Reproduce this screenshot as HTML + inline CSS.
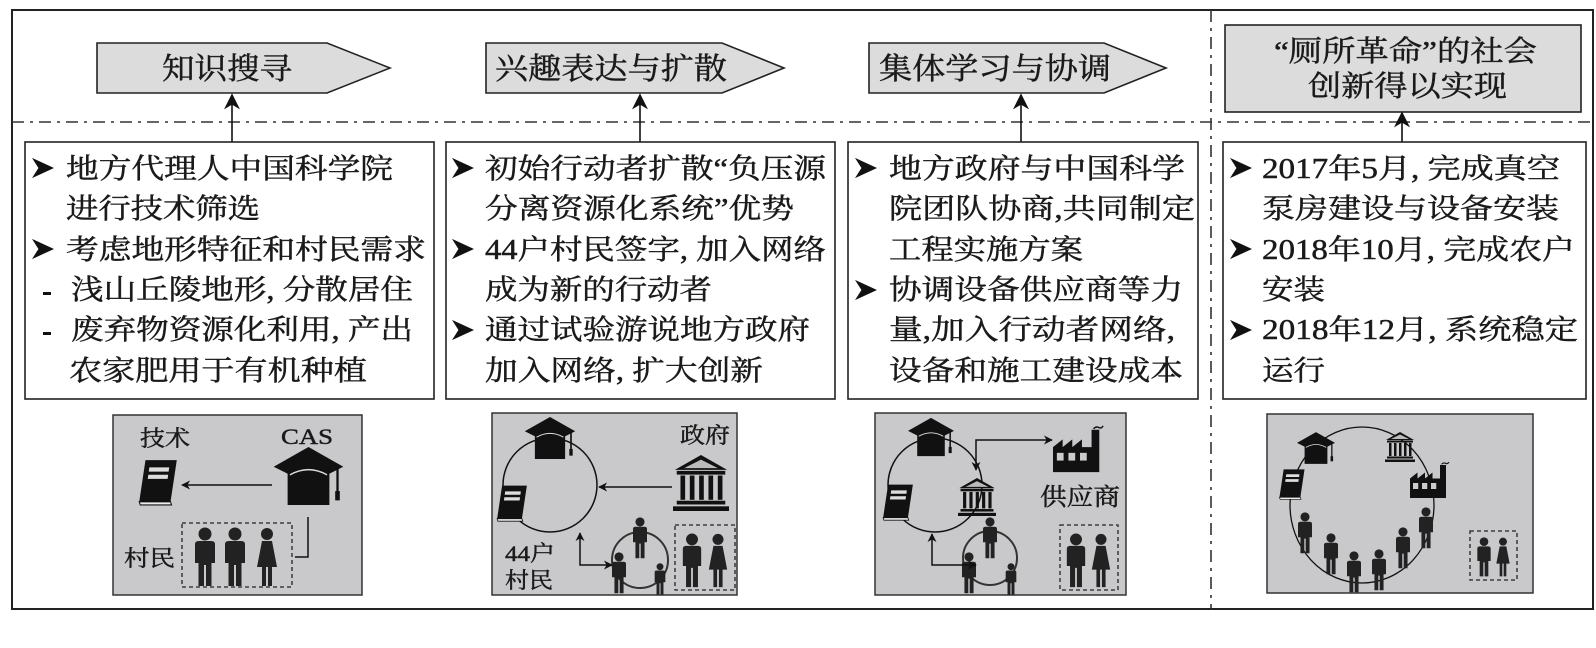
<!DOCTYPE html>
<html><head><meta charset="utf-8"><style>
html,body{margin:0;padding:0;background:#fff;}
svg{display:block;}
text{font-family:"Liberation Serif","Noto Serif CJK SC",serif;fill:#1a1a1a;stroke:#1a1a1a;stroke-width:0.45;}
</style></head><body>
<svg width="1596" height="648" viewBox="0 0 1596 648" xmlns="http://www.w3.org/2000/svg">
<defs>
<marker id="ah" viewBox="0 0 10 10" refX="9" refY="5" markerWidth="9" markerHeight="9" orient="auto-start-reverse" markerUnits="userSpaceOnUse"><path d="M0,0 L10,5 L0,10 L3,5 z" fill="#111"/></marker>
<marker id="ab" viewBox="0 0 10 10" refX="9" refY="5" markerWidth="16" markerHeight="16" orient="auto-start-reverse" markerUnits="userSpaceOnUse"><path d="M0,0 L10,5 L0,10 L3,5 z" fill="#111"/></marker>
<symbol id="cap" viewBox="0 0 60 50"><polygon points="0,17 30,0 60,17 30,32" fill="#111"/><path d="M12,22 Q30,12 48,22 L48,50 L12,50 z" fill="#111"/><path d="M14,24 Q30,15 46,24" stroke="#ddd" stroke-width="1.2" fill="none"/><line x1="55" y1="18" x2="55" y2="40" stroke="#111" stroke-width="2"/><rect x="53" y="38" width="4" height="8" fill="#111"/></symbol>
<symbol id="book" viewBox="0 0 40 46"><path d="M8,2 L38,2 L32,42 L2,42 z" fill="#111"/><path d="M2,42 L32,42 L33,45 L3,45 z" fill="#eee" stroke="#111" stroke-width="1"/><rect x="13" y="9" width="19" height="4" fill="#ddd" transform="skewX(-8)"/><rect x="13" y="16" width="19" height="4" fill="#ddd" transform="skewX(-8)"/></symbol>
<symbol id="temple" viewBox="0 0 60 60"><polygon points="30,0 58,16 2,16" fill="#111"/><polygon points="30,5 48,14 12,14" fill="#bbb"/><rect x="4" y="17" width="52" height="4" fill="#111"/><rect x="8" y="22" width="5" height="26" fill="#111"/><rect x="18" y="22" width="5" height="26" fill="#111"/><rect x="28" y="22" width="5" height="26" fill="#111"/><rect x="38" y="22" width="5" height="26" fill="#111"/><rect x="48" y="22" width="5" height="26" fill="#111"/><rect x="4" y="49" width="52" height="4" fill="#111"/><rect x="0" y="55" width="60" height="5" fill="#111"/></symbol>
<symbol id="factory" viewBox="0 0 56 48"><path d="M0,48 L0,22 L10,14 L10,22 L20,14 L20,22 L30,14 L30,22 L40,22 L40,4 L48,4 L48,48 z" fill="#111"/><rect x="4" y="28" width="7" height="8" fill="#ccc"/><rect x="16" y="28" width="7" height="8" fill="#ccc"/><rect x="28" y="28" width="7" height="8" fill="#ccc"/><path d="M42,3 Q45,0 48,2 Q50,3 52,0" stroke="#111" fill="none" stroke-width="1.5"/></symbol>
<symbol id="man" viewBox="0 0 20 60"><circle cx="10" cy="7" r="6.5" fill="#222"/><path d="M0,17 Q0,14 4,14 L16,14 Q20,14 20,17 L20,36 L16.5,36 L16.5,59 L11,59 L11,38 L9,38 L9,59 L3.5,59 L3.5,36 L0,36 z" fill="#222"/></symbol>
<symbol id="woman" viewBox="0 0 20 60"><circle cx="10" cy="7" r="6" fill="#222"/><path d="M5,14 L15,14 L20,40 L15,40 L15,59 L11,59 L11,40 L9,40 L9,59 L5,59 L5,40 L0,40 z" fill="#222"/></symbol>
<symbol id="bul" viewBox="0 0 24 24"><path d="M0,1 L24,12 L0,23 L7,12 z" fill="#111"/></symbol>
</defs>

<rect x="12" y="10" width="1581" height="599" fill="none" stroke="#222" stroke-width="2"/>
<line x1="12" y1="122" x2="1593" y2="122" stroke="#333" stroke-width="1.6" stroke-dasharray="12 6 3 6"/>
<line x1="1211" y1="10" x2="1211" y2="609" stroke="#333" stroke-width="1.6" stroke-dasharray="12 6 3 6"/>

<polygon points="97,43 327,43 390,68 327,93 97,93" fill="#dcdcdc" stroke="#222" stroke-width="1.6"/>
<text x="162" y="79" font-size="30" textLength="130" lengthAdjust="spacingAndGlyphs">知识搜寻</text>
<polygon points="486,43 722,43 784,68 722,93 486,93" fill="#dcdcdc" stroke="#222" stroke-width="1.6"/>
<text x="495" y="79" font-size="30" textLength="232" lengthAdjust="spacingAndGlyphs">兴趣表达与扩散</text>
<polygon points="869,43 1104,43 1166,68 1104,93 869,93" fill="#dcdcdc" stroke="#222" stroke-width="1.6"/>
<text x="879" y="79" font-size="30" textLength="232" lengthAdjust="spacingAndGlyphs">集体学习与协调</text>
<rect x="1225" y="25" width="356" height="87" fill="#dcdcdc" stroke="#222" stroke-width="1.6"/>
<text x="1274" y="61" font-size="29" textLength="263" lengthAdjust="spacingAndGlyphs">“厕所革命”的社会</text>
<text x="1308" y="96" font-size="29" textLength="199" lengthAdjust="spacingAndGlyphs">创新得以实现</text>

<line x1="232" y1="142" x2="232" y2="95" stroke="#111" stroke-width="1.6" marker-end="url(#ab)"/>
<line x1="640" y1="142" x2="640" y2="95" stroke="#111" stroke-width="1.6" marker-end="url(#ab)"/>
<line x1="1021" y1="142" x2="1021" y2="95" stroke="#111" stroke-width="1.6" marker-end="url(#ab)"/>
<line x1="1402" y1="142" x2="1402" y2="113" stroke="#111" stroke-width="1.6" marker-end="url(#ab)"/>

<rect x="25" y="142" width="409" height="257" fill="#fff" stroke="#222" stroke-width="1.6"/>
<rect x="446" y="142" width="389" height="257" fill="#fff" stroke="#222" stroke-width="1.6"/>
<rect x="848" y="142" width="350" height="257" fill="#fff" stroke="#222" stroke-width="1.6"/>
<rect x="1223" y="142" width="363" height="257" fill="#fff" stroke="#222" stroke-width="1.6"/>

<g font-size="28">
<use href="#bul" x="32" y="157" width="22" height="22"/>
<text x="66" y="178" textLength="327" lengthAdjust="spacingAndGlyphs">地方代理人中国科学院</text>
<text x="66" y="218" textLength="194" lengthAdjust="spacingAndGlyphs">进行技术筛选</text>
<use href="#bul" x="32" y="238" width="22" height="22"/>
<text x="66" y="259" textLength="360" lengthAdjust="spacingAndGlyphs">考虑地形特征和村民需求</text>
<rect x="43" y="292" width="8" height="3" fill="#111"/>
<text x="71" y="299" textLength="342" lengthAdjust="spacingAndGlyphs">浅山丘陵地形, 分散居住</text>
<rect x="43" y="332" width="8" height="3" fill="#111"/>
<text x="71" y="339" textLength="342" lengthAdjust="spacingAndGlyphs">废弃物资源化利用, 产出</text>
<text x="69" y="380" textLength="298" lengthAdjust="spacingAndGlyphs">农家肥用于有机种植</text>
<use href="#bul" x="452" y="157" width="22" height="22"/>
<text x="485" y="178" textLength="341" lengthAdjust="spacingAndGlyphs">初始行动者扩散“负压源</text>
<text x="485" y="218" textLength="309" lengthAdjust="spacingAndGlyphs">分离资源化系统”优势</text>
<use href="#bul" x="452" y="238" width="22" height="22"/>
<text x="485" y="259" textLength="341" lengthAdjust="spacingAndGlyphs">44户村民签字, 加入网络</text>
<text x="485" y="299" textLength="227" lengthAdjust="spacingAndGlyphs">成为新的行动者</text>
<use href="#bul" x="452" y="319" width="22" height="22"/>
<text x="485" y="339" textLength="325" lengthAdjust="spacingAndGlyphs">通过试验游说地方政府</text>
<text x="485" y="380" textLength="278" lengthAdjust="spacingAndGlyphs">加入网络, 扩大创新</text>
<use href="#bul" x="855" y="157" width="22" height="22"/>
<text x="889" y="178" textLength="296" lengthAdjust="spacingAndGlyphs">地方政府与中国科学</text>
<text x="889" y="218" textLength="306" lengthAdjust="spacingAndGlyphs">院团队协商,共同制定</text>
<text x="889" y="259" textLength="194" lengthAdjust="spacingAndGlyphs">工程实施方案</text>
<use href="#bul" x="855" y="279" width="22" height="22"/>
<text x="889" y="299" textLength="294" lengthAdjust="spacingAndGlyphs">协调设备供应商等力</text>
<text x="889" y="339" textLength="286" lengthAdjust="spacingAndGlyphs">量,加入行动者网络,</text>
<text x="889" y="380" textLength="294" lengthAdjust="spacingAndGlyphs">设备和施工建设成本</text>
<use href="#bul" x="1230" y="157" width="22" height="22"/>
<text x="1262" y="178" textLength="298" lengthAdjust="spacingAndGlyphs">2017年5月, 完成真空</text>
<text x="1262" y="218" textLength="297" lengthAdjust="spacingAndGlyphs">泵房建设与设备安装</text>
<use href="#bul" x="1230" y="238" width="22" height="22"/>
<text x="1262" y="259" textLength="313" lengthAdjust="spacingAndGlyphs">2018年10月, 完成农户</text>
<text x="1262" y="299" textLength="63" lengthAdjust="spacingAndGlyphs">安装</text>
<use href="#bul" x="1230" y="319" width="22" height="22"/>
<text x="1262" y="339" textLength="316" lengthAdjust="spacingAndGlyphs">2018年12月, 系统稳定</text>
<text x="1262" y="380" textLength="63" lengthAdjust="spacingAndGlyphs">运行</text>
</g>

<rect x="113" y="415" width="249" height="180" fill="#c9c9cb" stroke="#333" stroke-width="1.5"/>
<text x="140" y="446" font-size="22" textLength="50" lengthAdjust="spacingAndGlyphs">技术</text>
<text x="281" y="444" font-size="22" textLength="52" lengthAdjust="spacingAndGlyphs">CAS</text>
<use href="#book" x="133" y="458" width="50" height="48"/>
<line x1="272" y1="485" x2="182" y2="485" stroke="#111" stroke-width="1.5" marker-end="url(#ah)"/>
<use href="#cap" x="272" y="447" width="73" height="58"/>
<rect x="182" y="523" width="110" height="64" fill="none" stroke="#222" stroke-width="1.3" stroke-dasharray="4 3"/>
<text x="124" y="566" font-size="22" textLength="51" lengthAdjust="spacingAndGlyphs">村民</text>
<use href="#man" x="193" y="527" width="24" height="60"/>
<use href="#man" x="223" y="527" width="24" height="60"/>
<use href="#woman" x="255" y="527" width="24" height="60"/>
<polyline points="308,517 308,557 295,557" fill="none" stroke="#111" stroke-width="1.5"/>

<rect x="492" y="413" width="245" height="182" fill="#c9c9cb" stroke="#333" stroke-width="1.5"/>
<circle cx="550" cy="485" r="47" fill="none" stroke="#111" stroke-width="1.5"/>
<use href="#cap" x="523" y="417" width="54" height="42"/>
<use href="#book" x="495" y="484" width="34" height="38"/>
<text x="680" y="443" font-size="22" textLength="50" lengthAdjust="spacingAndGlyphs">政府</text>
<use href="#temple" x="672" y="455" width="58" height="56"/>
<line x1="672" y1="487" x2="599" y2="487" stroke="#111" stroke-width="1.5" marker-end="url(#ah)"/>
<text x="505" y="561" font-size="22" textLength="50" lengthAdjust="spacingAndGlyphs">44户</text>
<text x="505" y="588" font-size="22" textLength="48" lengthAdjust="spacingAndGlyphs">村民</text>
<circle cx="640" cy="560" r="28" fill="none" stroke="#333" stroke-width="2"/>
<use href="#man" x="631" y="517" width="18" height="42"/>
<use href="#man" x="610" y="552" width="18" height="42"/>
<use href="#man" x="652" y="563" width="16" height="32"/>
<polyline points="580,533 580,565 612,565" fill="none" stroke="#111" stroke-width="1.5" marker-start="url(#ah)" marker-end="url(#ah)"/>
<rect x="675" y="525" width="60" height="65" fill="none" stroke="#222" stroke-width="1.3" stroke-dasharray="4 3"/>
<use href="#man" x="681" y="533" width="22" height="55"/>
<use href="#woman" x="707" y="533" width="22" height="55"/>

<rect x="875" y="413" width="251" height="182" fill="#c9c9cb" stroke="#333" stroke-width="1.5"/>
<circle cx="935" cy="485" r="47" fill="none" stroke="#111" stroke-width="1.5"/>
<use href="#cap" x="908" y="417" width="46" height="40"/>
<use href="#book" x="880" y="483" width="36" height="38"/>
<use href="#temple" x="955" y="478" width="44" height="38"/>
<polyline points="1052,440 976,440 976,470" fill="none" stroke="#111" stroke-width="1.5" marker-start="url(#ah)" marker-end="url(#ah)"/>
<use href="#factory" x="1053" y="425" width="54" height="48"/>
<text x="1040" y="505" font-size="24" textLength="80" lengthAdjust="spacingAndGlyphs">供应商</text>
<circle cx="990" cy="558" r="27" fill="none" stroke="#333" stroke-width="2"/>
<use href="#man" x="981" y="517" width="18" height="42"/>
<use href="#man" x="960" y="552" width="18" height="42"/>
<use href="#man" x="1003" y="563" width="16" height="32"/>
<polyline points="932,534 932,565 976,565" fill="none" stroke="#111" stroke-width="1.5" marker-start="url(#ah)" marker-end="url(#ah)"/>
<rect x="1060" y="525" width="58" height="65" fill="none" stroke="#222" stroke-width="1.3" stroke-dasharray="4 3"/>
<use href="#man" x="1065" y="533" width="22" height="55"/>
<use href="#woman" x="1090" y="533" width="22" height="55"/>

<rect x="1267" y="414" width="266" height="179" fill="#c9c9cb" stroke="#333" stroke-width="1.5"/>
<ellipse cx="1362" cy="505" rx="72" ry="78" fill="none" stroke="#111" stroke-width="1.3" stroke-dasharray="none"/>
<use href="#cap" x="1297" y="432" width="38" height="32"/>
<use href="#temple" x="1384" y="432" width="32" height="30"/>
<use href="#factory" x="1410" y="462" width="42" height="36"/>
<use href="#book" x="1278" y="468" width="28" height="32"/>
<use href="#man" x="1296" y="512" width="18" height="42"/>
<use href="#man" x="1322" y="533" width="18" height="42"/>
<use href="#man" x="1345" y="551" width="18" height="42"/>
<use href="#man" x="1370" y="549" width="18" height="42"/>
<use href="#man" x="1394" y="527" width="18" height="42"/>
<use href="#man" x="1417" y="507" width="18" height="42"/>
<rect x="1470" y="531" width="47" height="49" fill="none" stroke="#222" stroke-width="1.3" stroke-dasharray="4 3"/>
<use href="#man" x="1475" y="537" width="18" height="40"/>
<use href="#woman" x="1494" y="537" width="18" height="40"/>
</svg>
</body></html>
